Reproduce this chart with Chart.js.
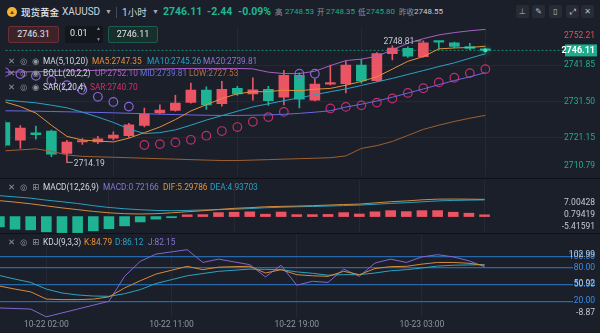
<!DOCTYPE html>
<html>
<head>
<meta charset="utf-8">
<script src="https://cdn.jsdelivr.net/npm/chart.js@4.4.1/dist/chart.umd.min.js"></script>
<style>
  body { margin:0; background:#1b1f29; }
  #wrap { position:relative; width:600px; height:333px; overflow:hidden; background:#1b1f29;
          font-family:Roboto, "Liberation Sans", "Noto Sans CJK SC", sans-serif; color:#d5d8de; }
  .t { position:absolute; white-space:nowrap; line-height:12px; }
  .cjk { font-family:"Noto Sans CJK SC", sans-serif; }
  .lg { font-size:8.3px; }
  .ic { position:absolute; color:#8e949f; font-size:8.5px; line-height:12px; font-family:"DejaVu Sans", sans-serif; }
  canvas { position:absolute; left:0; }
  .box { position:absolute; top:26px; height:17px; box-sizing:border-box; border-radius:2px; font-size:9px; line-height:15px; text-align:center; color:#e2e4e8; }
  .btn { position:absolute; top:5px; width:13px; height:13px; border-radius:2px; background:#272b36; color:#b8bcc6; font-size:8px; line-height:13px; text-align:center; font-family:"DejaVu Sans", sans-serif; }
  .sep { position:absolute; left:0; width:600px; height:1px; background:#0e1117; }
</style>
</head>
<body>
<div id="wrap">
  <canvas id="main" width="600" height="158" style="top:22px"></canvas>
  <canvas id="macd" width="600" height="54" style="top:180px"></canvas>
  <canvas id="kdj" width="600" height="99" style="top:234px"></canvas>
  <div class="sep" style="top:178px"></div>
  <div class="sep" style="top:233px"></div>

  <!-- title row -->
  <div style="position:absolute;left:7px;top:7px;width:10px;height:10px;border-radius:5px;background:#f2b431"></div>
  <div class="t" style="left:9px;top:6px;font-size:6px;color:#5a3d05">&#9650;</div>
  <div class="t cjk" style="left:21px;top:6px;font-size:9.5px;font-weight:500;color:#e8eaee">现货黄金</div>
  <div class="t" style="left:62px;top:6px;font-size:10px;color:#d0d3da">XAUUSD</div>
  <div class="t" style="left:105px;top:6px;font-size:7px;color:#a5aab4">&#9660;</div>
  <div style="position:absolute;left:116px;top:7px;width:1px;height:11px;background:#454b58"></div>
  <div class="t" style="left:122px;top:6px;font-size:10px;color:#d0d3da">1<span class="cjk" style="font-size:9.5px">小时</span></div>
  <div class="t" style="left:152px;top:6px;font-size:7px;color:#a5aab4">&#9660;</div>
  <div class="t" style="left:163px;top:6px;font-size:10.5px;font-weight:bold;color:#20b792">2746.11</div>
  <div class="t" style="left:207px;top:6px;font-size:10.5px;font-weight:bold;color:#20b792">-2.44</div>
  <div class="t" style="left:238px;top:6px;font-size:10.5px;font-weight:bold;color:#20b792">-0.09%</div>
  <div class="t cjk" style="left:275px;top:6px;font-size:7.5px;color:#8e949f">高</div>
  <div class="t" style="left:285px;top:6px;font-size:8px;color:#1fae8f">2748.53</div>
  <div class="t cjk" style="left:317px;top:6px;font-size:7.5px;color:#8e949f">开</div>
  <div class="t" style="left:326px;top:6px;font-size:8px;color:#1fae8f">2748.35</div>
  <div class="t cjk" style="left:358px;top:6px;font-size:7.5px;color:#8e949f">低</div>
  <div class="t" style="left:366px;top:6px;font-size:8px;color:#1fae8f">2745.80</div>
  <div class="t cjk" style="left:399px;top:6px;font-size:7.5px;color:#8e949f">昨收</div>
  <div class="t" style="left:414px;top:6px;font-size:8px;color:#c9ccd3">2748.55</div>

  <div class="btn" style="left:516px">&#8869;</div>
  <div class="btn" style="left:532px">&#9998;</div>
  <div class="btn" style="left:549px">&#9647;</div>
  <div class="btn" style="left:566px">&#10530;</div>
  <div class="btn" style="left:581px">&#10005;</div>

  <!-- order boxes -->
  <div class="box" style="left:8px;width:51px;background:#3b2329;border:1px solid #6a2f38">2746.31</div>
  <div class="box" style="left:65px;width:38px;background:#13161d;text-align:left;padding-left:5px">0.01</div>
  <div class="t" style="left:96px;top:25px;font-size:5px;line-height:6px;color:#8e949f">&#9650;</div>
  <div class="t" style="left:96px;top:36px;font-size:5px;line-height:6px;color:#8e949f">&#9660;</div>
  <div class="box" style="left:108px;width:50px;background:#17302c;border:1px solid #1d5c50">2746.11</div>

  <!-- main legends -->
  <div class="ic" style="left:8px;top:55px">&#10005;</div><div class="ic" style="left:20px;top:55px">&#9678;</div><div class="ic" style="left:32px;top:55px">&#9673;</div>
  <div class="t lg" style="left:43px;top:55px;color:#d5d8de">MA(5,10,20)</div>
  <div class="t lg" style="left:92px;top:55px;color:#e8913a">MA5:2747.35</div>
  <div class="t lg" style="left:147px;top:55px;color:#26a3c9">MA10:2745.26</div>
  <div class="t lg" style="left:203px;top:55px;color:#8e77d6">MA20:2739.81</div>

  <div class="ic" style="left:8px;top:67px">&#10005;</div><div class="ic" style="left:20px;top:67px">&#9678;</div><div class="ic" style="left:32px;top:67px">&#9673;</div>
  <div class="t lg" style="left:43px;top:67px;color:#d5d8de">BOLL(20,2,2)</div>
  <div class="t lg" style="left:95px;top:67px;color:#b45fc7">UP:2752.10</div>
  <div class="t lg" style="left:140px;top:67px;color:#6a6ee0">MID:2739.81</div>
  <div class="t lg" style="left:189px;top:67px;color:#b7703c">LOW:2727.53</div>

  <div class="ic" style="left:8px;top:81px">&#10005;</div><div class="ic" style="left:20px;top:81px">&#9678;</div><div class="ic" style="left:32px;top:81px">&#9673;</div>
  <div class="t lg" style="left:43px;top:81px;color:#d5d8de">SAR(2,20,4)</div>
  <div class="t lg" style="left:90px;top:81px;color:#d0306a">SAR:2740.70</div>

  <!-- MACD legend -->
  <div class="ic" style="left:8px;top:181px">&#10005;</div><div class="ic" style="left:20px;top:181px">&#9678;</div><div class="ic" style="left:32px;top:181px">&#8862;</div>
  <div class="t lg" style="left:43px;top:181px;color:#d5d8de">MACD(12,26,9)</div>
  <div class="t lg" style="left:103px;top:181px;color:#8c73d6">MACD:0.72166</div>
  <div class="t lg" style="left:163px;top:181px;color:#e8913a">DIF:5.29786</div>
  <div class="t lg" style="left:210px;top:181px;color:#26a3c9">DEA:4.93703</div>

  <!-- KDJ legend -->
  <div class="ic" style="left:8px;top:236px">&#10005;</div><div class="ic" style="left:20px;top:236px">&#9678;</div><div class="ic" style="left:32px;top:236px">&#8862;</div>
  <div class="t lg" style="left:43px;top:236px;color:#d5d8de">KDJ(9,3,3)</div>
  <div class="t lg" style="left:84px;top:236px;color:#e8913a">K:84.79</div>
  <div class="t lg" style="left:115px;top:236px;color:#26a3c9">D:86.12</div>
  <div class="t lg" style="left:148px;top:236px;color:#8c73d6">J:82.15</div>
</div>

<script>
var times = ['10-21 23:00','10-22 00:00','10-22 01:00','10-22 02:00','10-22 03:00','10-22 04:00','10-22 06:00','10-22 07:00',
  '10-22 08:00','10-22 09:00','10-22 10:00','10-22 11:00','10-22 12:00','10-22 13:00','10-22 14:00','10-22 15:00',
  '10-22 16:00','10-22 17:00','10-22 18:00','10-22 19:00','10-22 20:00','10-22 21:00','10-22 22:00','10-22 23:00',
  '10-23 00:00','10-23 01:00','10-23 02:00','10-23 03:00','10-23 04:00','10-23 06:00','10-23 07:00','10-23 08:00'];
var xTickIdx = [3, 11, 19, 27];

var open  = [2725.5, 2720.5, 2722.6, 2723.1, 2716.75, 2720.0, 2720.0, 2721.1, 2721.8, 2724.7, 2728.3, 2729.0, 2731.3, 2734.8, 2730.9, 2735.3,
  2733.7, 2735.0, 2732.8, 2739.0, 2731.9, 2736.5, 2736.6, 2741.95, 2737.5, 2745.2, 2746.7, 2744.3, 2748.6, 2748.3, 2747.2, 2746.35];
var high  = [2726.0, 2724.7, 2724.5, 2723.4, 2720.5, 2721.0, 2721.6, 2722.9, 2725.3, 2729.7, 2730.6, 2733.3, 2736.8, 2735.7, 2737.3, 2735.9,
  2738.3, 2735.9, 2740.4, 2739.7, 2737.95, 2741.9, 2743.0, 2743.6, 2745.5, 2747.4, 2747.15, 2748.81, 2748.7, 2748.5, 2748.1, 2746.8];
var low   = [2718.5, 2718.2, 2720.8, 2715.8, 2714.19, 2719.3, 2719.5, 2720.6, 2721.3, 2724.3, 2728.0, 2728.8, 2731.1, 2729.3, 2730.2, 2733.3,
  2731.9, 2730.4, 2730.6, 2729.7, 2731.7, 2736.3, 2734.0, 2736.8, 2737.25, 2743.4, 2744.1, 2744.15, 2746.5, 2746.8, 2746.3, 2745.8];
var close = [2719.1, 2724.0, 2722.1, 2716.5, 2720.0, 2720.3, 2720.9, 2721.95, 2724.9, 2728.0, 2729.1, 2731.1, 2734.8, 2730.6, 2735.0, 2733.7,
  2734.9, 2731.8, 2739.0, 2732.2, 2736.5, 2736.6, 2741.95, 2737.4, 2745.2, 2746.8, 2744.5, 2748.3, 2748.45, 2747.25, 2746.7, 2746.11];
var lastPrice = 2746.11;

var ma5  = [2731.42, 2730.09, 2728.24, 2724.79, 2721.61, 2720.55, 2720.28, 2720.01, 2721.08, 2722.67, 2724.26, 2726.38, 2728.85, 2730.62, 2732.40, 2733.73,
  2734.34, 2734.34, 2734.79, 2734.60, 2735.05, 2735.27, 2736.19, 2737.26, 2738.58, 2740.78, 2743.01, 2744.34, 2746.54, 2746.81, 2746.94, 2747.30];
var ma10 = [2731.95, 2731.55, 2731.16, 2730.49, 2729.75, 2728.50, 2727.10, 2725.58, 2723.73, 2722.40, 2722.67, 2723.46, 2724.79, 2726.25, 2727.52, 2728.77,
  2730.01, 2730.89, 2731.77, 2732.61, 2733.46, 2734.34, 2735.13, 2736.12, 2737.12, 2738.13, 2739.25, 2740.36, 2741.50, 2742.56, 2743.89, 2745.15];
var bollMid = [2728.90, 2728.85, 2728.77, 2728.69, 2728.61, 2728.50, 2728.42, 2728.32, 2728.18, 2728.05, 2727.92, 2727.81, 2727.71, 2727.63, 2727.57, 2727.57,
  2727.63, 2727.71, 2727.89, 2728.16, 2728.50, 2728.90, 2729.96, 2730.76, 2731.69, 2732.75, 2733.94, 2735.13, 2736.33, 2737.52, 2738.58, 2739.78];
var bollUp = [2739.91, 2739.96, 2740.04, 2740.12, 2740.23, 2740.31, 2740.44, 2740.52, 2740.62, 2740.70, 2740.84, 2740.92, 2740.97, 2740.97, 2740.97, 2740.97,
  2740.84, 2739.91, 2739.51, 2739.51, 2740.17, 2741.77, 2743.22, 2743.62, 2744.42, 2746.27, 2748.13, 2749.46, 2750.52, 2751.18, 2751.71, 2752.10];
var bollLow = [2717.49, 2717.76, 2718.03, 2717.36, 2716.30, 2715.90, 2715.77, 2715.64, 2715.51, 2715.37, 2715.24, 2715.11, 2714.97, 2714.84, 2714.71, 2714.71,
  2714.84, 2714.97, 2715.11, 2715.24, 2715.37, 2715.51, 2716.04, 2718.16, 2718.95, 2720.15, 2721.87, 2723.60, 2724.79, 2725.85, 2726.78, 2727.60];
var sar = [2739.91, 2739.38, 2738.85, 2737.52, 2736.19, 2734.87, 2732.88, 2731.42, 2730.09, 2719.14, 2719.40, 2719.88, 2720.62, 2721.79, 2723.12, 2724.26,
  2725.77, 2727.10, 2728.58, 2739.46, 2739.46, 2729.56, 2730.01, 2730.44, 2731.23, 2732.40, 2733.99, 2735.32, 2736.99, 2738.32, 2739.64, 2740.78];

var macdHist = [-5.2, -6.4, -6.7, -7.7, -8.1, -8.1, -7.2, -6.1, -4.7, -2.7, -1.3, -0.6, 0.9, 1.0, 2.0, 2.2,
  2.4, 1.2, 2.3, 1.0, 1.0, 1.1, 2.0, 1.3, 2.4, 3.0, 2.5, 3.0, 3.0, 2.2, 1.7, 0.9];
var dif = [8.05, 7.3, 6.45, 5.4, 4.4, 3.5, 2.6, 1.9, 1.45, 1.3, 1.45, 1.9, 2.45, 2.95, 3.6, 4.15,
  4.5, 4.95, 5.15, 5.3, 5.5, 5.8, 6.1, 6.3, 6.9, 7.5, 7.9, 8.45, 8.8, 8.85, 8.8, 8.7];
var dea = [10.55, 9.95, 9.3, 8.3, 7.5, 6.6, 5.5, 4.6, 3.95, 3.45, 3.1, 2.95, 3.1, 3.35, 3.5, 3.7,
  4.05, 4.45, 4.7, 4.95, 5.1, 5.3, 5.55, 5.8, 6.2, 6.65, 7.0, 7.45, 7.9, 8.15, 8.3, 8.4];

var kLine = [47.5, 42, 37, 24, 23, 23, 24, 28, 44, 57, 69, 76, 83, 77, 81.5, 82.5,
  83, 71, 77, 68, 66, 65, 74, 68, 79, 82.5, 83, 87, 90, 90, 88.5, 84.8];
var dLine = [66.5, 60, 54, 42, 35, 31.4, 29.5, 29, 33.7, 41, 52, 59, 66, 70, 74, 76,
  78, 77.5, 77, 73, 70.5, 67, 68, 68, 71, 75, 77, 80, 83.5, 85, 85.5, 86.1];
var jLine = [8, 7, 6, -8, -1, 6, 13, 20, 65, 92, 105, 109, 113, 90, 96, 91,
  86, 64, 85, 49, 56, 54, 78, 65, 89, 96, 90, 100, 104, 100, 93, 82.2];

var priceTicks = [2752.21, 2741.85, 2731.50, 2721.15, 2710.79];
var macdTicks = [7.00428, 0.79419, -5.41591];
var kdjLevels = [100, 80, 50, 20];
var kdjMarks = [102.99, 50.92, -8.87];

var RED = '#eb5463', GREEN = '#1db393';
var idx = close.map(function (c, i) { return i; });
var candleColors = idx.map(function (i) { return close[i] >= open[i] ? RED : GREEN; });
var sarColors = idx.map(function (i) { return sar[i] > close[i] ? '#8a64d6' : '#c2306c'; });

function pts(arr) {
  return arr.map(function (v, i) { return {x: i, y: v}; });
}
function line(label, arr, color, order) {
  return {type: 'line', label: label, data: pts(arr), borderColor: color, borderWidth: 1,
    pointRadius: 0, fill: false, order: order};
}

function xAxis(withLabels) {
  return {
    type: 'linear', min: 0.04, max: 36.14, offset: false, bounds: 'data',
    grid: {color: '#242935', drawTicks: false},
    border: {display: false},
    ticks: {display: withLabels, color: '#8f95a0', font: {size: 8.5}, padding: 2, maxRotation: 0, autoSkip: false,
      callback: function (v) { return times[v]; }},
    afterBuildTicks: function (ax) { ax.ticks = xTickIdx.map(function (v) { return {value: v}; }); },
    afterFit: function (ax) { ax.height = withLabels ? 15 : 0; }
  };
}

function rightLabels(items, padTop, padBottom) {
  return {
    id: 'rightLabels',
    afterDraw: function (chart) {
      var c = chart.ctx, a = chart.chartArea, s = chart.scales.y;
      c.save();
      c.font = '8.5px Roboto';
      c.textAlign = 'right';
      c.textBaseline = 'middle';
      items.forEach(function (it) {
        var y = Math.min(Math.max(s.getPixelForValue(it.v), a.top + padTop), a.bottom - padBottom);
        c.fillStyle = it.color;
        c.fillText(it.text, 595, y);
      });
      c.restore();
    }
  };
}

var priceMarks = {
  id: 'priceMarks',
  beforeDatasetsDraw: function (chart) {
    var c = chart.ctx, a = chart.chartArea, y = chart.scales.y.getPixelForValue(lastPrice);
    c.save();
    c.strokeStyle = 'rgba(31,174,143,0.75)';
    c.setLineDash([2, 2]);
    c.lineWidth = 1;
    c.beginPath(); c.moveTo(a.left, y); c.lineTo(a.right, y); c.stroke();
    c.restore();
  },
  afterDraw: function (chart) {
    var c = chart.ctx, xs = chart.scales.x, ys = chart.scales.y;
    var y = ys.getPixelForValue(lastPrice);
    c.save();
    // last price glow
    c.fillStyle = '#3fe0bd';
    c.shadowColor = '#3fe0bd';
    c.shadowBlur = 6;
    c.beginPath(); c.arc(xs.getPixelForValue(close.length - 1), y, 2, 0, Math.PI * 2); c.fill();
    c.shadowBlur = 0;
    // price box
    c.fillStyle = '#1aae8c';
    c.fillRect(565, y - 6, 32, 12);
    c.fillStyle = '#ffffff';
    c.font = 'bold 9px Roboto';
    c.textAlign = 'right';
    c.textBaseline = 'middle';
    c.fillText(lastPrice.toFixed(2), 595, y + 0.5);
    // highest / lowest marks
    var hi = high.indexOf(Math.max.apply(null, high)), lo = low.indexOf(Math.min.apply(null, low));
    var hx = xs.getPixelForValue(hi), hy = ys.getPixelForValue(high[hi]);
    var lx = xs.getPixelForValue(lo), ly = ys.getPixelForValue(low[lo]);
    c.strokeStyle = '#9aa0aa';
    c.lineWidth = 1;
    c.beginPath(); c.moveTo(hx - 8, hy); c.lineTo(hx - 2, hy); c.stroke();
    c.beginPath(); c.moveTo(lx, ly); c.lineTo(lx + 6, ly); c.stroke();
    c.fillStyle = '#c4c8d0';
    c.font = '8.5px Roboto';
    c.fillText(high[hi].toFixed(2), hx - 9, hy + 1);
    c.textAlign = 'left';
    c.fillText(low[lo].toFixed(2), lx + 7, ly + 2);
    c.restore();
  }
};

Chart.defaults.font.family = 'Roboto';

new Chart(document.getElementById('main'), {
  type: 'bar',
  data: {
    datasets: [
      line('MA5', ma5, '#e0913c', 1),
      line('MA10', ma10, '#2aa3c4', 1),
      line('MID', bollMid, '#6a68e2', 1),
      line('UP', bollUp, '#a95fc4', 1),
      line('LOW', bollLow, '#9c6035', 1),
      {type: 'line', label: 'SAR', data: pts(sar), showLine: false, pointRadius: 4.3, pointBorderWidth: 1.2,
        pointBackgroundColor: 'rgba(0,0,0,0)', pointBorderColor: sarColors, order: 2},
      {label: 'body', data: idx.map(function (i) { return {x: i, y: [open[i], close[i]]}; }),
        backgroundColor: candleColors, barThickness: 10, minBarLength: 1.5, grouped: false, order: 3},
      {label: 'wick', data: idx.map(function (i) { return {x: i, y: [low[i], high[i]]}; }),
        backgroundColor: candleColors, barThickness: 1, grouped: false, order: 4}
    ]
  },
  options: {
    responsive: false, animation: false, layout: {padding: 0},
    plugins: {legend: {display: false}, tooltip: {enabled: false}},
    scales: {
      x: xAxis(false),
      y: {position: 'right', min: 2710.73, max: 2752.64, bounds: 'data',
        grid: {color: '#242935', drawTicks: false}, border: {display: false}, ticks: {display: false},
        afterBuildTicks: function (ax) { ax.ticks = priceTicks.slice(1, 4).map(function (v) { return {value: v}; }); },
        afterFit: function (ax) { ax.width = 35; }}
    }
  },
  plugins: [rightLabels(priceTicks.map(function (v, k) {
    return {v: v, text: v.toFixed(2), color: k === 0 ? '#e0525d' : '#1fae8f'};
  }), 8, 9), priceMarks]
});

new Chart(document.getElementById('macd'), {
  type: 'bar',
  data: {
    datasets: [
      line('DIF', dif, '#d38b3e', 1),
      line('DEA', dea, '#2aa0bf', 1),
      {label: 'MACD', data: pts(macdHist), backgroundColor: macdHist.map(function (v) { return v >= 0 ? RED : GREEN; }),
        barThickness: 10, grouped: false, order: 2}
    ]
  },
  options: {
    responsive: false, animation: false, layout: {padding: 0},
    plugins: {legend: {display: false}, tooltip: {enabled: false}},
    scales: {
      x: xAxis(false),
      y: {position: 'right', min: -8.80, max: 18.47, bounds: 'data',
        grid: {display: false}, border: {display: false}, ticks: {display: false},
        afterFit: function (ax) { ax.width = 35; }}
    }
  },
  plugins: [rightLabels(macdTicks.map(function (v) {
    return {v: v, text: v.toFixed(5), color: '#c4c8d0'};
  }), 0, 0)]
});

new Chart(document.getElementById('kdj'), {
  type: 'line',
  data: {
    datasets: [
      line('K', kLine, '#d88a3a', 1),
      line('D', dLine, '#2aa5c0', 1),
      line('J', jLine, '#8466d0', 1)
    ]
  },
  options: {
    responsive: false, animation: false, layout: {padding: 0},
    plugins: {legend: {display: false}, tooltip: {enabled: false}},
    scales: {
      x: xAxis(true),
      y: {position: 'right', min: -10.09, max: 141.26, bounds: 'data',
        grid: {color: '#2768ad', lineWidth: 1.3, drawTicks: true, tickLength: 8}, border: {display: false}, ticks: {display: false},
        afterBuildTicks: function (ax) { ax.ticks = kdjLevels.map(function (v) { return {value: v}; }); },
        afterFit: function (ax) { ax.width = 35; }}
    }
  },
  plugins: [rightLabels(kdjLevels.map(function (v) {
    return {v: v, text: v.toFixed(2), color: '#3a8ee6'};
  }).concat(kdjMarks.map(function (v) {
    return {v: v, text: v.toFixed(2), color: '#c4c8d0'};
  })), 6, 5)]
});
</script>
</body>
</html>
